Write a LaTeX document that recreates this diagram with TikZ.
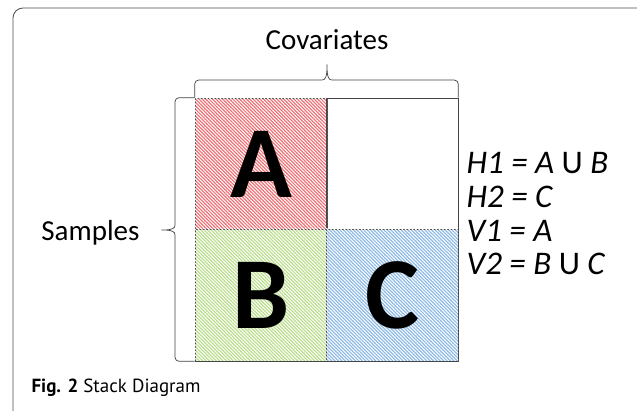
\documentclass[tikz,border=0pt]{standalone}
\usepackage{fontspec}
\setmainfont{Carlito}
\newfontfamily\capfont{PT Sans}
\usetikzlibrary{patterns.meta}
\definecolor{cellred}{RGB}{240,110,115}
\definecolor{cellgreen}{RGB}{185,222,140}
\definecolor{cellblue}{RGB}{140,185,230}
\definecolor{gridgray}{RGB}{70,70,70}
\tikzset{
  cell/.style={minimum size=132pt, inner sep=0pt, draw=gridgray, line width=0.6pt,
    font=\fontsize{102}{102}\selectfont\bfseries},
  hatch/.style={postaction={pattern={Lines[angle=-45,distance=2.4pt,line width=1pt]}, pattern color=white}},
  eqn/.style={font=\fontsize{33}{33}\selectfont\itshape, anchor=west},
  lbl/.style={font=\fontsize{29}{29}\selectfont},
  brace/.style={draw=black!75, line width=0.7pt, rounded corners=4pt}
}
\begin{document}
\begin{tikzpicture}[x=1pt,y=-1pt]
        \useasboundingbox (0,0) rectangle (637,411);
        % Frame
        \draw[black!70, line width=0.8pt, rounded corners=10pt] (13,8) rectangle (660,440);
        % Cells
        \node[cell, fill=cellred, hatch] (A) at (261,164) {A};
        \node[cell] (E) at (392,164) {};
        \node[cell, fill=cellgreen, hatch] (B) at (261,295) {B};
        \node[cell, fill=cellblue, hatch] (C) at (392,295) {C};
        % Braces
        \draw[brace] (A.north west) |- (318,80) .. controls (325,80) and (327,78) .. (327,62)
          .. controls (327,78) and (329,80) .. (336,80) -| (E.north east);
        \draw[brace] (A.north west) -| (175,221) .. controls (175,228) and (173,230) .. (159,230)
          .. controls (173,230) and (175,232) .. (175,239) |- (B.south west);
        % Labels
        \node[lbl] (cov) at (327,40) {Covariates};
        \node[lbl, anchor=east] (smp) at (143,233) {Samples};
        \node[eqn] (h1) at (463,163) {H1 = A {\upshape U} B};
        \node[eqn] (h2) at (463,197) {H2 = C};
        \node[eqn] (v1) at (463,231) {V1 = A};
        \node[eqn] (v2) at (463,264) {V2 = B {\upshape U} C};
        % Caption
        \node[font=\capfont\fontsize{19}{19}\selectfont, anchor=west] (cap) at (28,388) {\textbf{Fig. 2} Stack Diagram};
      \end{tikzpicture}
\end{document}
